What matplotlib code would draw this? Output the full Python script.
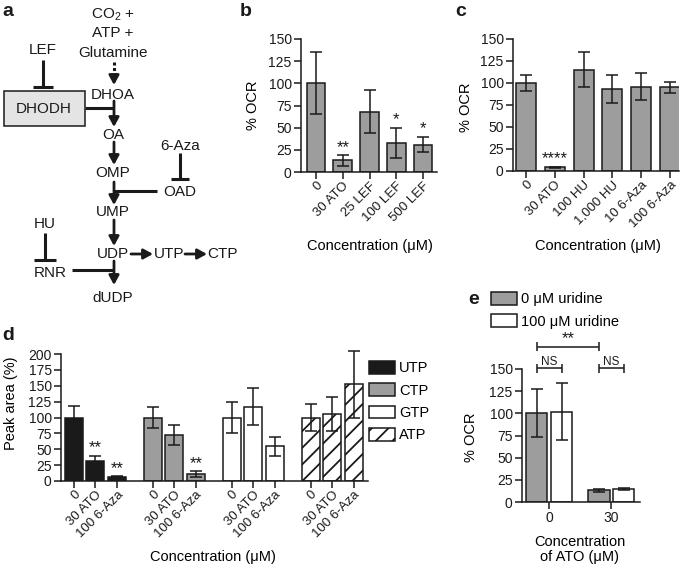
import matplotlib
matplotlib.use('Agg')
import matplotlib.pyplot as plt
from matplotlib.patches import Patch, Rectangle
import numpy as np

plt.rcParams['font.family'] = ['Liberation Sans', 'DejaVu Sans']
plt.rcParams['mathtext.fontset'] = 'custom'
plt.rcParams['mathtext.rm'] = 'Liberation Sans'
plt.rcParams['hatch.linewidth'] = 1.3
plt.rcParams['hatch.color'] = '#1a1a1a'

# ---------------- data ----------------
b_labels = ['0', '30 ATO', '25 LEF', '100 LEF', '500 LEF']
b_values = [100, 13, 68, 33, 31]
b_errors = [35, 6, 24, 17, 9]
b_stars = ['', '**', '', '*', '*']

c_labels = ['0', '30 ATO', '100 HU', '1,000 HU', '10 6-Aza', '100 6-Aza']
c_values = [100, 4, 115, 93, 96, 95]
c_errors = [9, 1, 20, 16, 15, 6]
c_stars = ['', '****', '', '', '', '']

d_nucleotides = ['UTP', 'CTP', 'GTP', 'ATP']
d_treatments = ['0', '30 ATO', '100 6-Aza']
utp_values = [100, 31, 7]
utp_errors = [18, 9, 1]
utp_stars = ['', '**', '**']
ctp_values = [100, 72, 11]
ctp_errors = [17, 16, 4]
ctp_stars = ['', '', '**']
gtp_values = [100, 117, 55]
gtp_errors = [24, 29, 15]
gtp_stars = ['', '', '']
atp_values = [100, 105, 152]
atp_errors = [21, 27, 52]
atp_stars = ['', '', '']

e_groups = ['0', '30']
e_series = ['0 \u03bcM uridine', '100 \u03bcM uridine']
e_no_uridine = [100, 13]
e_no_uridine_err = [27, 2]
e_uridine = [102, 15]
e_uridine_err = [32, 1]

# ---------------- figure ----------------
W, H = 685, 570
fig = plt.figure(figsize=(W / 100, H / 100), dpi=100)

GRAY = '#9d9d9d'
BLACK = '#1a1a1a'
LW = 1.1
TICK = 10
XTICK = 9.5
LAB = 10.5
STAR = 12


def px_axes(x0, y0, x1, y1):
    return fig.add_axes([x0 / W, 1 - y1 / H, (x1 - x0) / W, (y1 - y0) / H])


def style(ax, ymax):
    for s in ['top', 'right']:
        ax.spines[s].set_visible(False)
    for s in ['left', 'bottom']:
        ax.spines[s].set_linewidth(LW)
        ax.spines[s].set_color(BLACK)
    ax.set_ylim(0, ymax)
    ax.set_yticks(np.arange(0, ymax + 1, 25))
    ax.tick_params(length=5.2, width=LW, labelsize=TICK, pad=1.5, colors=BLACK)
    ax.tick_params(axis='x', labelsize=XTICK, pad=0.5)
    ax.patch.set_visible(False)


def labels(ax, ylab, yx, yy, xlab, xx, xy, **kw):
    ax.set_ylabel(ylab, fontsize=LAB)
    ax.yaxis.set_label_coords(yx, yy)
    ax.yaxis.label.set_va('center')
    ax.set_xlabel(xlab, fontsize=LAB, **kw)
    ax.xaxis.set_label_coords(xx, xy)
    ax.xaxis.label.set_va('center')


def bars(ax, xs, vals, errs, width, color, hatch=None, stars=None):
    ax.bar(xs, vals, width=width, color=color, edgecolor=BLACK, linewidth=LW,
           hatch=hatch, zorder=2)
    ax.errorbar(xs, vals, yerr=errs, fmt='none', ecolor=BLACK, elinewidth=LW,
                capsize=4.6, capthick=LW, clip_on=False, zorder=3)
    if stars:
        for x, v, e, s in zip(xs, vals, errs, stars):
            if s:
                ax.text(x, v + e + 0.3, s, ha='center', va='bottom', fontsize=STAR,
                        color=BLACK)


# ---------------- panel b ----------------
axb = px_axes(301, 39, 437, 172)
style(axb, 150)
xb = np.arange(len(b_labels))
bars(axb, xb, b_values, b_errors, 0.70, GRAY, stars=b_stars)
axb.set_xlim(-0.56, 4.52)
axb.set_xticks(xb)
axb.set_xticklabels(b_labels, rotation=45, ha='right', rotation_mode='anchor')
labels(axb, '% OCR', -0.353, 0.5, 'Concentration (\u03bcM)', 0.51, -0.56)

# ---------------- panel c ----------------
axc = px_axes(513, 39, 679, 171)
style(axc, 150)
xc = np.arange(len(c_labels))
bars(axc, xc, c_values, c_errors, 0.69, GRAY, stars=c_stars)
axc.set_xlim(-0.45, 5.31)
axc.set_xticks(xc)
axc.set_xticklabels(c_labels, rotation=45, ha='right', rotation_mode='anchor')
labels(axc, '% OCR', -0.283, 0.48, 'Concentration (\u03bcM)', 0.51, -0.57)

# ---------------- panel d ----------------
axd = px_axes(61, 354, 368, 481)
style(axd, 200)
d_series = [
    (utp_values, utp_errors, utp_stars, BLACK, None),
    (ctp_values, ctp_errors, ctp_stars, GRAY, None),
    (gtp_values, gtp_errors, gtp_stars, 'white', None),
    (atp_values, atp_errors, atp_stars, 'white', '//'),
]
GROUP_GAP = 3.67
d_ticks, d_ticklabels = [], []
handles = []
for g, (vals, errs, stars, col, hat) in enumerate(d_series):
    xs = g * GROUP_GAP + np.arange(len(d_treatments))
    bars(axd, xs, vals, errs, 0.84, col, hatch=hat, stars=stars)
    d_ticks += list(xs)
    d_ticklabels += d_treatments
    handles.append(Patch(facecolor=col, edgecolor=BLACK, linewidth=LW, hatch=hat,
                         label=d_nucleotides[g]))
axd.set_xlim(-0.6, 13.67)
axd.set_xticks(d_ticks)
axd.set_xticklabels(d_ticklabels, rotation=45, ha='right', rotation_mode='anchor')
labels(axd, 'Peak area (%)', -0.163, 0.61, 'Concentration (\u03bcM)', 0.495, -0.6)
fig.legend(handles=handles, loc='upper left', bbox_to_anchor=(369 / W, 1 - 361 / H),
           bbox_transform=fig.transFigure, frameon=False, fontsize=LAB,
           handlelength=1.75, handleheight=0.95, labelspacing=0.55,
           handletextpad=0.3, borderpad=0, borderaxespad=0)

# ---------------- panel e ----------------
axe = px_axes(522, 369, 640, 502)
style(axe, 150)
axe.tick_params(axis='x', labelsize=TICK, pad=1.5)
xe = np.arange(len(e_groups))
off = 0.2
bars(axe, xe - off, e_no_uridine, e_no_uridine_err, 0.34, GRAY)
bars(axe, xe + off, e_uridine, e_uridine_err, 0.34, 'white')
axe.set_xlim(-0.44, 1.46)
axe.set_xticks(xe)
axe.set_xticklabels(e_groups)
labels(axe, '% OCR', -0.43, 0.49, 'Concentration\nof ATO (\u03bcM)', 0.49, -0.36,
       linespacing=1.1)


def bracket(ax, x0, x1, y, text, fs):
    kw = dict(color=BLACK, lw=LW, clip_on=False, solid_capstyle='butt')
    ax.plot([x0, x1], [y, y], **kw)
    ax.plot([x0, x0], [y - 5, y + 5], **kw)
    ax.plot([x1, x1], [y - 5, y + 5], **kw)
    ax.text((x0 + x1) / 2, y + 0.5, text, ha='center', va='bottom', fontsize=fs,
            color=BLACK)


bracket(axe, -off, 1 - off, 175, '**', STAR)
bracket(axe, -off, off, 151, 'NS', 8.5)
bracket(axe, 1 - off, 1 + off, 151, 'NS', 8.5)

e_handles = [Patch(facecolor=GRAY, edgecolor=BLACK, linewidth=LW, label=e_series[0]),
             Patch(facecolor='white', edgecolor=BLACK, linewidth=LW, label=e_series[1])]
fig.legend(handles=e_handles, loc='upper left', bbox_to_anchor=(491 / W, 1 - 292 / H),
           bbox_transform=fig.transFigure, frameon=False, fontsize=LAB,
           handlelength=1.75, handleheight=0.95, labelspacing=0.55,
           handletextpad=0.3, borderpad=0, borderaxespad=0)

# ---------------- panel a (pathway diagram, pixel coordinates) ----------------
ax0 = fig.add_axes([0, 0, 1, 1])
ax0.set_xlim(0, W)
ax0.set_ylim(H, 0)
ax0.axis('off')
ax0.patch.set_visible(False)

FS = 11


def t(x, y, s, **kw):
    ax0.text(x, y, s, ha='center', va='center', fontsize=FS, color=BLACK, **kw)


def arrow(x0, y0, x1, y1):
    ax0.annotate('', xy=(x1, y1), xytext=(x0, y0),
                 arrowprops=dict(arrowstyle='-|>,head_length=0.55,head_width=0.3',
                                 lw=2.0, color=BLACK, shrinkA=0, shrinkB=0))


def line(xs, ys, **kw):
    ax0.plot(xs, ys, color=BLACK, lw=2.2, solid_capstyle='butt', **kw)


def tee_down(x, y0, y1, half=10):
    line([x, x], [y0, y1])
    line([x - half, x + half], [y1, y1])


pathway = ['DHOA', 'OA', 'OMP', 'UMP', 'UDP', 'dUDP']
pathway_y = [95, 135, 173, 212, 254, 298]
for name, y in zip(pathway, pathway_y):
    t(113, y, name)

t(113, 15, r'CO$_\mathregular{2}$ +')
t(113, 33, 'ATP +')
t(113, 53, 'Glutamine')
line([114, 114], [62, 77], linestyle=(0, (1.0, 0.8)))
arrow(114, 76, 114, 85)

ax0.add_patch(Rectangle((4, 91), 81, 35, facecolor='#e4e4e4', edgecolor=BLACK,
                        lw=1.1))
t(44, 109, 'DHODH')
t(43, 50, 'LEF')
tee_down(43, 60, 87)
line([85, 114], [108, 108])
arrow(114, 101, 114, 127)
arrow(114, 142, 114, 165)
arrow(114, 182, 114, 205)
line([157, 114], [191, 191])
t(180, 146, '6-Aza')
tee_down(180, 153, 179, half=9)
t(180, 192, 'OAD')
arrow(114, 220, 114, 246)
arrow(131, 254, 153, 254)
t(169, 254, 'UTP')
arrow(185, 254, 207, 254)
t(223, 254, 'CTP')
t(45, 224, 'HU')
tee_down(45, 233, 260, half=11)
t(50, 273, 'RNR')
line([72, 114], [270, 270])
arrow(114, 261, 114, 285)

# panel letters
for lab, x, y in [('a', 2, 11), ('b', 240, 11), ('c', 455, 11), ('d', 2, 335),
                  ('e', 468, 300)]:
    ax0.text(x, y, lab, ha='left', va='center', fontsize=14, fontweight='bold',
             color=BLACK)

fig.savefig('out.png', dpi=100)
